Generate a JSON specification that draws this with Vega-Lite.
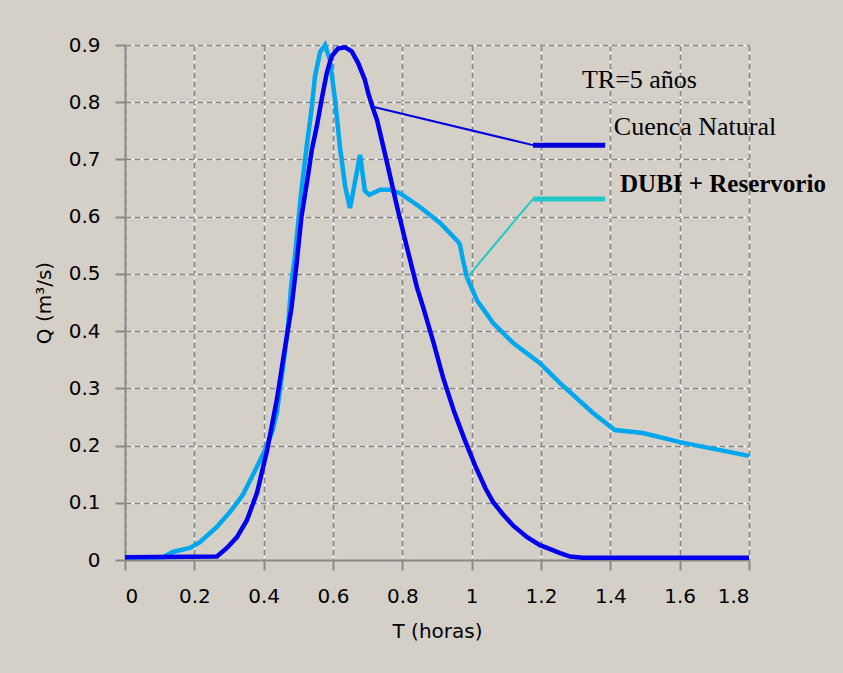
{
  "$schema": "https://vega.github.io/schema/vega-lite/v6.json",
  "width": 624,
  "height": 515,
  "autosize": {"type": "none"},
  "padding": {"left": 125, "top": 45, "right": 94, "bottom": 113},
  "background": "#d4d0c8",
  "view": {"stroke": null},
  "datasets": {
    "natural": [
      {"t": 0, "q": 0.005}, {"t": 0.265, "q": 0.006}, {"t": 0.294, "q": 0.021}, {"t": 0.323, "q": 0.04},
      {"t": 0.352, "q": 0.07}, {"t": 0.381, "q": 0.118}, {"t": 0.41, "q": 0.192}, {"t": 0.438, "q": 0.28},
      {"t": 0.456, "q": 0.35}, {"t": 0.48, "q": 0.44}, {"t": 0.495, "q": 0.518}, {"t": 0.509, "q": 0.6},
      {"t": 0.529, "q": 0.676}, {"t": 0.539, "q": 0.717}, {"t": 0.553, "q": 0.757}, {"t": 0.567, "q": 0.804},
      {"t": 0.582, "q": 0.851}, {"t": 0.596, "q": 0.88}, {"t": 0.615, "q": 0.894}, {"t": 0.635, "q": 0.896},
      {"t": 0.654, "q": 0.889}, {"t": 0.673, "q": 0.868}, {"t": 0.692, "q": 0.839}, {"t": 0.702, "q": 0.815},
      {"t": 0.715, "q": 0.79}, {"t": 0.727, "q": 0.769}, {"t": 0.756, "q": 0.694}, {"t": 0.785, "q": 0.617},
      {"t": 0.813, "q": 0.547}, {"t": 0.842, "q": 0.477}, {"t": 0.86, "q": 0.442}, {"t": 0.89, "q": 0.38},
      {"t": 0.917, "q": 0.32}, {"t": 0.95, "q": 0.258}, {"t": 0.98, "q": 0.21}, {"t": 1.01, "q": 0.165},
      {"t": 1.04, "q": 0.125}, {"t": 1.062, "q": 0.101}, {"t": 1.09, "q": 0.08}, {"t": 1.12, "q": 0.06},
      {"t": 1.16, "q": 0.04}, {"t": 1.197, "q": 0.026}, {"t": 1.23, "q": 0.018}, {"t": 1.255, "q": 0.012},
      {"t": 1.284, "q": 0.006}, {"t": 1.32, "q": 0.004}, {"t": 1.8, "q": 0.004}
    ],
    "dubi": [
      {"t": 0, "q": 0.005}, {"t": 0.05, "q": 0.005}, {"t": 0.11, "q": 0.005}, {"t": 0.138, "q": 0.014},
      {"t": 0.1875, "q": 0.021}, {"t": 0.216, "q": 0.031}, {"t": 0.265, "q": 0.058}, {"t": 0.303, "q": 0.084},
      {"t": 0.34, "q": 0.114}, {"t": 0.366, "q": 0.145}, {"t": 0.404, "q": 0.192}, {"t": 0.425, "q": 0.225},
      {"t": 0.438, "q": 0.257}, {"t": 0.456, "q": 0.337}, {"t": 0.47, "q": 0.407}, {"t": 0.48, "q": 0.484},
      {"t": 0.49, "q": 0.53}, {"t": 0.509, "q": 0.647}, {"t": 0.524, "q": 0.722}, {"t": 0.539, "q": 0.792},
      {"t": 0.548, "q": 0.845}, {"t": 0.563, "q": 0.888}, {"t": 0.577, "q": 0.9}, {"t": 0.591, "q": 0.874},
      {"t": 0.606, "q": 0.804}, {"t": 0.62, "q": 0.722}, {"t": 0.635, "q": 0.653}, {"t": 0.649, "q": 0.615},
      {"t": 0.663, "q": 0.659}, {"t": 0.678, "q": 0.708}, {"t": 0.692, "q": 0.645}, {"t": 0.705, "q": 0.638},
      {"t": 0.736, "q": 0.647}, {"t": 0.765, "q": 0.647}, {"t": 0.793, "q": 0.641}, {"t": 0.851, "q": 0.617},
      {"t": 0.909, "q": 0.589}, {"t": 0.957, "q": 0.559}, {"t": 0.966, "q": 0.552}, {"t": 0.975, "q": 0.524},
      {"t": 0.986, "q": 0.495}, {"t": 1.015, "q": 0.454}, {"t": 1.062, "q": 0.414}, {"t": 1.12, "q": 0.379},
      {"t": 1.197, "q": 0.344}, {"t": 1.255, "q": 0.309}, {"t": 1.35, "q": 0.257}, {"t": 1.413, "q": 0.227},
      {"t": 1.494, "q": 0.222}, {"t": 1.601, "q": 0.206}, {"t": 1.8, "q": 0.182}
    ]
  },
  "layer": [
    {
      "data": {"name": "dubi"},
      "mark": {"type": "line", "color": "#00a6ee", "strokeWidth": 4.5},
      "encoding": {
        "x": {"field": "t", "type": "quantitative", "scale": {"domain": [0, 1.8], "nice": false, "zero": false},
          "axis": {"orient": "bottom", "values": [0, 0.2, 0.4, 0.6, 0.8, 1, 1.2, 1.4, 1.6, 1.8], "grid": true, "gridColor": "#ffffff", "gridWidth": 1.5, "gridOpacity": 1, "labels": false, "ticks": false, "domain": false, "title": null}},
        "y": {"field": "q", "type": "quantitative", "scale": {"domain": [0, 0.9], "nice": false, "zero": false},
          "axis": {"orient": "left", "values": [0, 0.1, 0.2, 0.3, 0.4, 0.5, 0.6, 0.7, 0.8, 0.9], "grid": true, "gridColor": "#ffffff", "gridWidth": 1.5, "gridOpacity": 1, "labels": false, "ticks": false, "domain": false, "title": null}}
      }
    },
    {
      "data": {"name": "natural"},
      "mark": {"type": "line", "color": "#0000ee", "strokeWidth": 4.5},
      "encoding": {
        "x": {"field": "t", "type": "quantitative", "scale": {"domain": [0, 1.8], "nice": false, "zero": false},
          "axis": {"orient": "bottom", "values": [0, 0.2, 0.4, 0.6, 0.8, 1, 1.2, 1.4, 1.6, 1.8], "format": "~g",
            "grid": true, "gridColor": "#858585", "gridDash": [6, 3], "gridWidth": 1.7, "gridOpacity": 1,
            "domainColor": "#8a8a8a", "domainWidth": 2, "tickColor": "#8a8a8a", "tickWidth": 2, "tickSize": 10,
            "labelFont": "DejaVu Sans", "labelFontSize": 20, "labelColor": "#000000", "labelPadding": 16,
            "title": "T (horas)", "titleFont": "DejaVu Sans", "titleFontSize": 20, "titleFontWeight": "normal", "titleColor": "#000000", "titlePadding": 15}},
        "y": {"field": "q", "type": "quantitative", "scale": {"domain": [0, 0.9], "nice": false, "zero": false},
          "axis": {"orient": "left", "values": [0, 0.1, 0.2, 0.3, 0.4, 0.5, 0.6, 0.7, 0.8, 0.9], "format": "~g",
            "grid": true, "gridColor": "#858585", "gridDash": [6, 3], "gridWidth": 1.7, "gridOpacity": 1,
            "domainColor": "#8a8a8a", "domainWidth": 2, "tickColor": "#8a8a8a", "tickWidth": 2, "tickSize": 10,
            "labelFont": "DejaVu Sans", "labelFontSize": 20, "labelColor": "#000000", "labelPadding": 15,
            "title": "Q (m³/s)", "titleFont": "DejaVu Sans", "titleFontSize": 20, "titleFontWeight": "normal", "titleColor": "#000000", "titlePadding": 14}}
      }
    },
    {
      "data": {"values": [
        {"serie": "Cuenca Natural", "x1": 0.715, "y1": 0.792, "x2": 1.177, "y2": 0.725},
        {"serie": "DUBI + Reservorio", "x1": 0.986, "y1": 0.493, "x2": 1.177, "y2": 0.631}
      ]},
      "mark": {"type": "rule", "strokeWidth": 2},
      "encoding": {
        "x": {"field": "x1", "type": "quantitative", "axis": null},
        "y": {"field": "y1", "type": "quantitative", "axis": null},
        "x2": {"field": "x2"},
        "y2": {"field": "y2"},
        "color": {"field": "serie", "type": "nominal", "scale": {"domain": ["Cuenca Natural", "DUBI + Reservorio"], "range": ["#0000dd", "#22c8c8"]}, "legend": null}
      }
    },
    {
      "data": {"values": [
        {"serie": "Cuenca Natural", "x1": 1.177, "x2": 1.385, "y": 0.725},
        {"serie": "DUBI + Reservorio", "x1": 1.177, "x2": 1.385, "y": 0.631}
      ]},
      "mark": {"type": "rule", "strokeWidth": 5},
      "encoding": {
        "x": {"field": "x1", "type": "quantitative", "axis": null},
        "x2": {"field": "x2"},
        "y": {"field": "y", "type": "quantitative", "axis": null},
        "color": {"field": "serie", "type": "nominal", "scale": {"domain": ["Cuenca Natural", "DUBI + Reservorio"], "range": ["#3a5cff", "#00ccff"]}, "legend": null}
      }
    },
    {
      "data": {"values": [
        {"label": "TR=5 años", "x": 1.318, "y": 0.825},
        {"label": "Cuenca Natural", "x": 1.41, "y": 0.743}
      ]},
      "mark": {"type": "text", "font": "Liberation Serif", "fontSize": 26, "align": "left", "baseline": "alphabetic", "color": "#000000"},
      "encoding": {
        "x": {"field": "x", "type": "quantitative", "axis": null},
        "y": {"field": "y", "type": "quantitative", "axis": null},
        "text": {"field": "label"}
      }
    },
    {
      "data": {"values": [
        {"label": "DUBI + Reservorio", "x": 1.428, "y": 0.643}
      ]},
      "mark": {"type": "text", "font": "Liberation Serif", "fontSize": 25, "fontWeight": "bold", "align": "left", "baseline": "alphabetic", "color": "#000000"},
      "encoding": {
        "x": {"field": "x", "type": "quantitative", "axis": null},
        "y": {"field": "y", "type": "quantitative", "axis": null},
        "text": {"field": "label"}
      }
    }
  ],
  "resolve": {"axis": {"x": "independent", "y": "independent"}}
}
